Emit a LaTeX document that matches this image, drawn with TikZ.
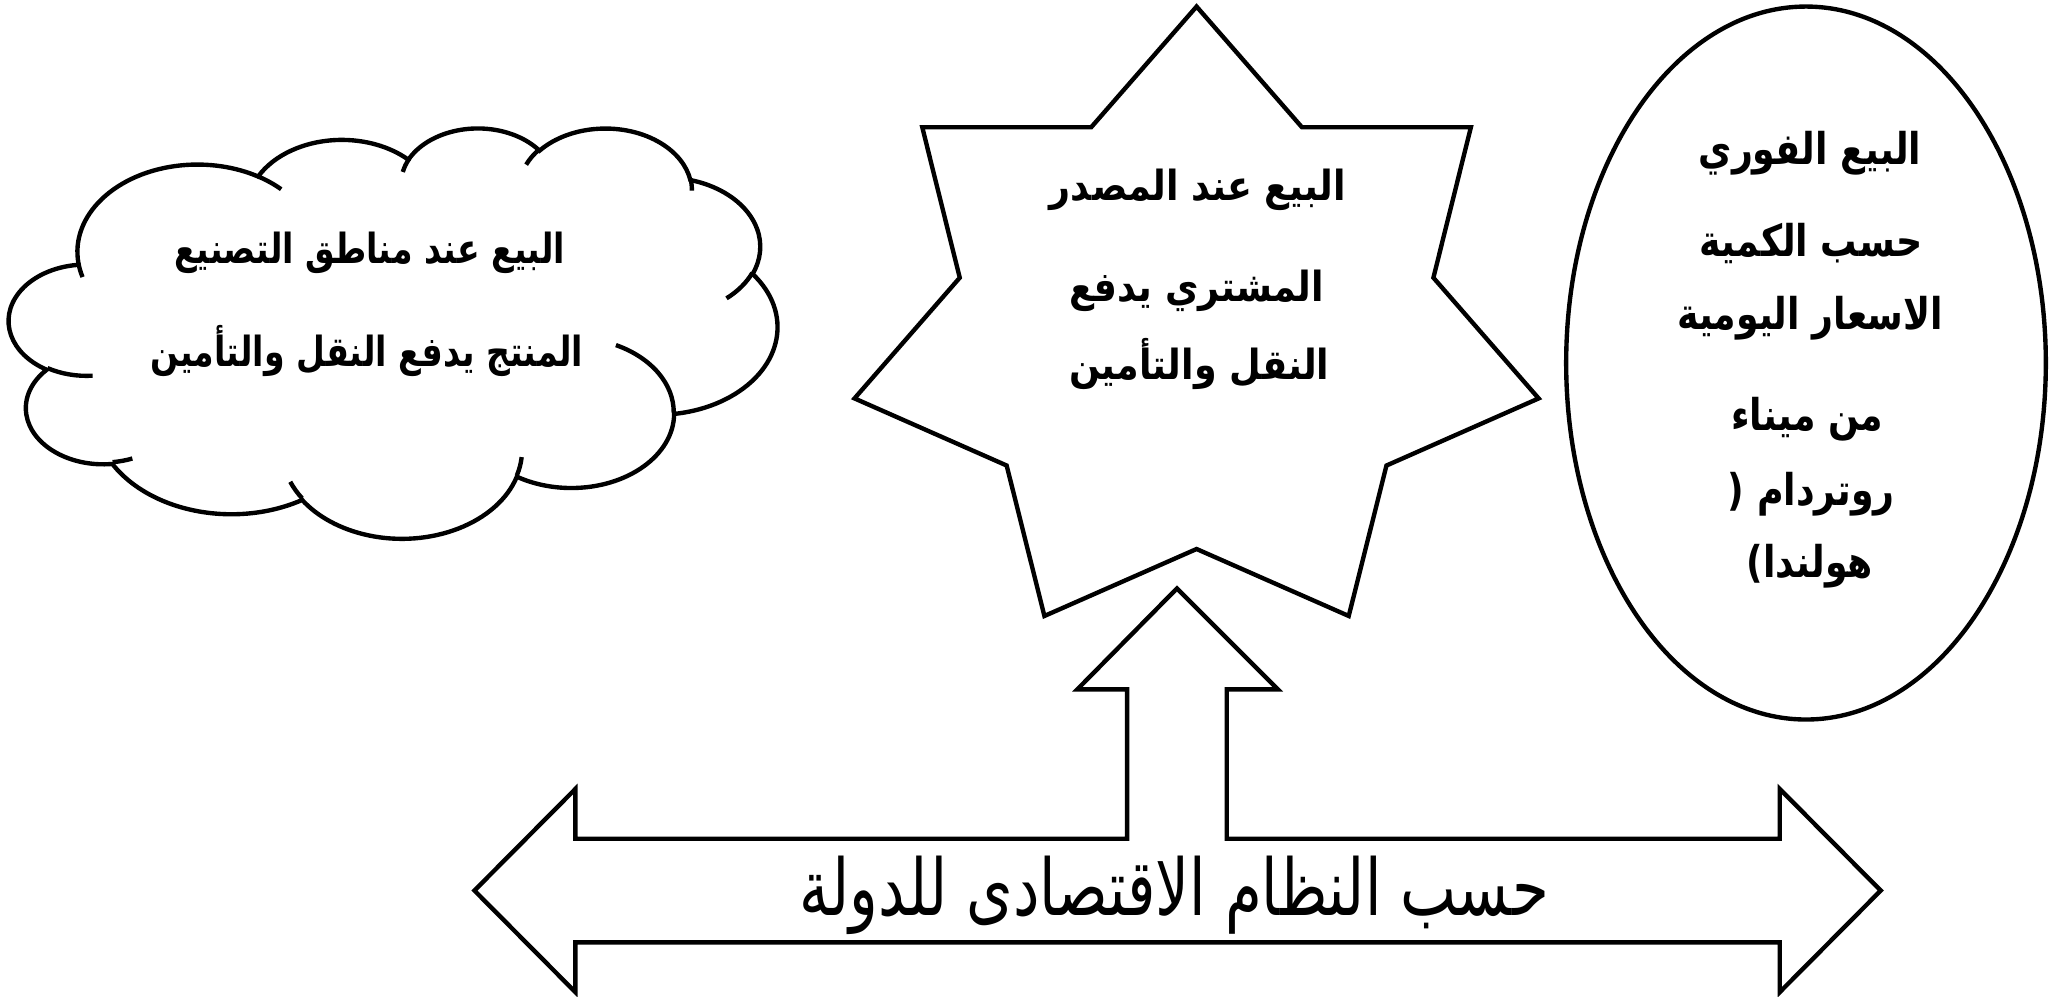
\documentclass[tikz,border=0pt]{standalone}
\usepackage{fontspec}
\newfontfamily\cloudfont[Script=Arabic,FakeStretch=0.80]{DejaVu Sans}
\newfontfamily\starfont[Script=Arabic,FakeStretch=0.88]{DejaVu Sans}
\newfontfamily\ovalfont[Script=Arabic,FakeStretch=0.83]{DejaVu Sans}
\newfontfamily\econfont[Script=Arabic,FakeStretch=0.76]{DejaVu Sans}
\TeXXeTstate=1
% one bump of the cloud: x radius, y radius, start angle, sweep (visual angles)
\newcommand{\cloudarc}[4]{arc[x radius=#1, y radius=#2, start angle={atan2(#1*sin(#3),#2*cos(#3))}, delta angle={mod(atan2(#1*sin(#3+#4),#2*cos(#3+#4))-atan2(#1*sin(#3),#2*cos(#3))+720,360)}]}
\begin{document}
\begin{tikzpicture}[x=0.02cm, y=0.02cm]
\tikzstyle{every node}+=[inner sep=0pt]
\tikzstyle{cloudtext}=[font=\cloudfont\bfseries\fontsize{18}{20}\selectfont]
\tikzstyle{startext}=[font=\starfont\bfseries\fontsize{18}{20}\selectfont]
\tikzstyle{ovaltext}=[font=\ovalfont\bfseries\fontsize{19}{21}\selectfont]
\tikzstyle{econtext}=[font=\econfont\fontsize{34}{38}\selectfont]
\useasboundingbox (0,0) rectangle (1568,-760);
\begin{scope}[line width=1.9pt]
% cloud
\begin{scope}[shift={(7,-97)}, xscale=1.3565, yscale=-0.72454]
\draw [black] (39.00,143.70) \cloudarc{67.53}{91.90}{-190.4875}{123.7805}
  \cloudarc{53.33}{72.67}{-144.1024}{89.9452}
  \cloudarc{43.65}{59.45}{-145.8079}{99.7230}
  \cloudarc{48.57}{65.95}{-130.9861}{117.2417}
  \cloudarc{53.33}{72.73}{-78.7089}{109.0269}
  \cloudarc{67.75}{92.20}{-46.2673}{130.2690}
  \cloudarc{57.85}{78.67}{0.6250}{114.0333}
  \cloudarc{67.52}{92.15}{22.4516}{115.1726}
  \cloudarc{77.20}{105.43}{66.2426}{75.7110}
  \cloudarc{43.60}{59.18}{-274.9421}{146.7356}
  \cloudarc{43.45}{59.45}{-246.8285}{152.5189} -- cycle;
\draw [black] (46.93,261.77) \cloudarc{43.45}{59.45}{86.742}{26.4295}
  (69.28,348.99) \cloudarc{43.60}{59.18}{73.6105}{11.4475}
  (164.78,390.90) \cloudarc{67.52}{92.15}{137.624}{14.0811}
  (288.27,347.51) \cloudarc{67.52}{92.15}{6.4533}{15.9984}
  (341.29,229.54) \cloudarc{57.85}{78.67}{-70.2924}{70.9174}
  (417.98,153.54) \cloudarc{53.33}{72.73}{30.3180}{27.7515}
  (383.24,54.26) \cloudarc{48.57}{65.95}{-13.7443}{14.8589}
  (290.78,39.52) \cloudarc{48.57}{65.95}{-149.1815}{18.1954}
  (221.41,47.20) \cloudarc{43.65}{59.45}{-163.4943}{17.6864}
  (140.00,51.92) \cloudarc{67.53}{91.90}{-66.7070}{12.3194}
  (41.27,157.89) \cloudarc{67.53}{91.90}{157.6544}{11.8582};
\end{scope}
% seven point star
\draw [black] (913,-5) -- (993.4,-97.1) -- (1122.3,-97.1) -- (1093.7,-211.9) -- (1174,-304) -- (1057.9,-355.2) -- (1029.1,-470) -- (913,-418.9) -- (796.9,-470) -- (768.1,-355.2) -- (652,-304) -- (732.3,-211.9) -- (703.7,-97.1) -- (832.6,-97.1) -- cycle;
% oval
\draw [black] (1378,-277) ellipse (183 and 272);
% double arrow with the arrow up
\draw [black] (362,-679.5) -- (439,-602) -- (439,-640) -- (860,-640) -- (860,-526) -- (822,-526) -- (898,-449) -- (975,-526) -- (936,-526) -- (936,-640) -- (1358,-640) -- (1358,-602) -- (1435,-679.5) -- (1358,-757) -- (1358,-719) -- (439,-719) -- (439,-757) -- cycle;
\end{scope}
\draw (282,-193) node (cloudA) [cloudtext] {\beginR البيع عند مناطق التصنيع\endR};
\draw (280,-268) node (cloudB) [cloudtext] {\beginR المنتج يدفع النقل والتأمين\endR};
\draw (914,-145) node (starA) [startext] {\beginR البيع عند المصدر\endR};
\draw (913,-222) node (starB) [startext] {\beginR المشتري يدفع\endR};
\draw (915,-278) node (starC) [startext] {\beginR النقل والتأمين\endR};
\draw (1381,-117) node (ovalA) [ovaltext] {\beginR البيع الفوري\endR};
\draw (1382,-186) node (ovalB) [ovaltext] {\beginR حسب الكمية\endR};
\draw (1381,-243) node (ovalC) [ovaltext] {\beginR الاسعار اليومية\endR};
\draw (1379,-320) node (ovalD) [ovaltext] {\beginR من ميناء\endR};
\draw (1382,-377) node (ovalE) [ovaltext] {\beginR روتردام (\endR};
\draw (1381,-432) node (ovalF) [ovaltext] {\beginR هولندا)\endR};
\draw (896,-683) node (econ) [econtext] {\beginR حسب النظام الاقتصادى للدولة\endR};
\end{tikzpicture}
\end{document}
